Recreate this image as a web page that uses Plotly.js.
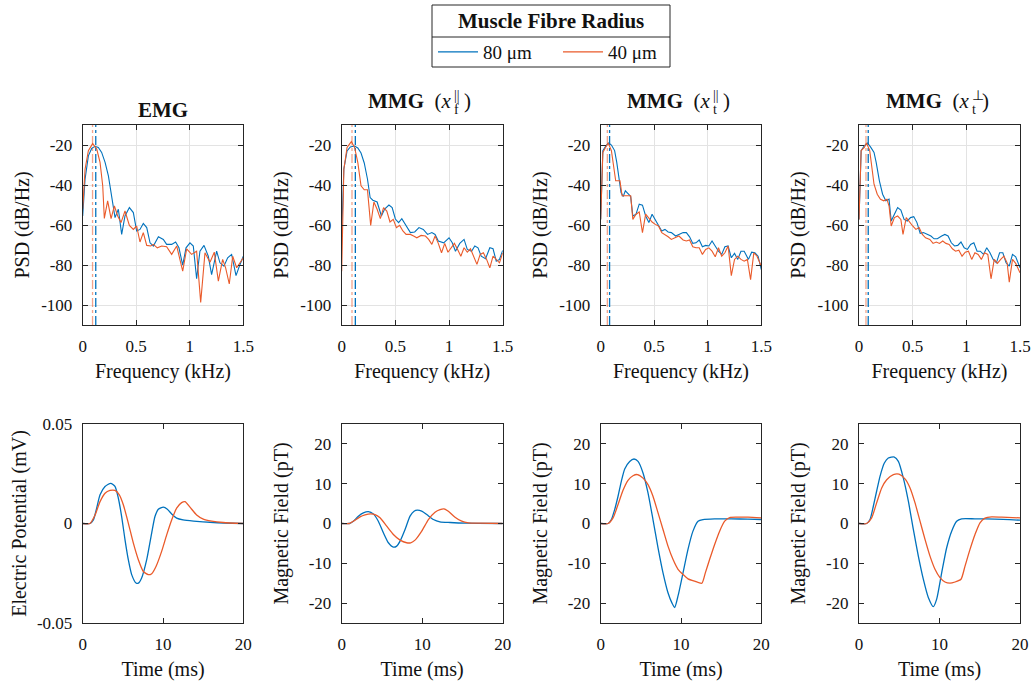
<!DOCTYPE html>
<html>
<head>
<meta charset="utf-8">
<script src="https://cdn.plot.ly/plotly-3.0.1.min.js"></script>
<style>
  html, body { margin: 0; padding: 0; background: #fff; }
  #chart { width: 1035px; height: 684px; }
</style>
</head>
<body>
<div id="chart"></div>
<script>
// ---------------- DATA ----------------
// Series names (legend)
const seriesNames = ['80 μm', '40 μm'];
const panelTitles = ['EMG', 'MMG', 'MMG', 'MMG'];
const panelSubs = ['', 'f', 't', 't'];
const panelSups = ['', '||', '||', '⊥'];

// --- PSD, EMG ---
const fEmg80 = [0,0.022,0.053,0.084,0.115,0.146,0.177,0.209,0.240,0.271,0.302,0.333,0.364,0.395,0.436,0.473,0.504,0.535,0.566,0.598,0.629,0.660,0.707,0.753,0.784,0.831,0.868,0.899,0.934,0.965,1.002,1.033,1.064,1.095,1.133,1.173,1.204,1.251,1.282,1.319,1.354,1.391,1.432,1.463,1.5];
const pEmg80 = [-55.5,-37.1,-25.4,-21.7,-20.7,-21.2,-23.7,-28.7,-35.4,-45.4,-56.3,-52.1,-64.7,-55.5,-51.3,-53.8,-63.0,-62.2,-59.2,-61.3,-68.9,-70.5,-65.9,-67.2,-69.7,-69.7,-68.5,-71.4,-80.1,-71.4,-68.9,-70.5,-86.9,-73.1,-70.2,-75.6,-84.8,-73.1,-78.9,-80.6,-76.4,-74.7,-85.3,-80.6,-75.6];
const fEmg40 = [0,0.022,0.053,0.093,0.131,0.162,0.187,0.202,0.233,0.265,0.296,0.327,0.358,0.395,0.436,0.473,0.504,0.535,0.566,0.598,0.635,0.660,0.697,0.738,0.784,0.831,0.878,0.934,0.971,1.017,1.064,1.102,1.142,1.189,1.229,1.267,1.307,1.335,1.369,1.401,1.438,1.469,1.5];
const pEmg40 = [-52.1,-32.1,-22.8,-19.3,-22.0,-28.7,-40.4,-56.7,-47.9,-56.8,-50.5,-55.5,-58.8,-53.0,-60.2,-62.2,-60.5,-68.5,-63.8,-70.2,-70.5,-69.7,-71.4,-70.5,-70.9,-74.7,-70.5,-83.1,-71.9,-74.7,-73.1,-98.7,-73.9,-78.6,-73.6,-88.1,-77.2,-81.4,-89.5,-75.6,-81.4,-78.9,-76.4];

// --- PSD, MMG x_f ---
const fMf80 = [0,0.02,0.05,0.08,0.12,0.15,0.18,0.21,0.24,0.265,0.29,0.33,0.37,0.4,0.44,0.47,0.5,0.53,0.56,0.6,0.64,0.68,0.72,0.76,0.8,0.84,0.87,0.9,0.95,1.0,1.03,1.06,1.1,1.14,1.17,1.21,1.24,1.27,1.3,1.34,1.38,1.41,1.44,1.47,1.5];
const pMf80 = [-65,-32,-23,-21,-20.5,-21.5,-24,-29,-37,-46.3,-47.6,-48.5,-55.5,-52,-50,-51.3,-57,-58.8,-56.8,-60.5,-63.8,-63.5,-61.3,-62.2,-64.7,-63.8,-64.7,-68.0,-68.9,-66.4,-68.9,-73.1,-69.2,-67.2,-72.2,-73.1,-70.5,-71.4,-75.6,-76.9,-71.4,-71.9,-78.1,-77.2,-72.7];
const fMf40 = [0,0.02,0.05,0.09,0.12,0.15,0.18,0.21,0.24,0.27,0.3,0.33,0.36,0.39,0.42,0.45,0.48,0.51,0.54,0.57,0.6,0.64,0.67,0.7,0.74,0.78,0.81,0.84,0.87,0.9,0.93,0.96,0.99,1.02,1.05,1.08,1.11,1.14,1.17,1.2,1.23,1.26,1.29,1.32,1.35,1.38,1.41,1.44,1.47,1.5];
const pMf40 = [-83.1,-32.1,-21.2,-18.3,-21.2,-28.7,-40.4,-42.4,-42.4,-60.2,-48.5,-52.1,-56.8,-51.3,-53.0,-58.5,-57.2,-61.3,-60.2,-63.0,-64.7,-64.7,-65.5,-66.4,-65.2,-65.5,-67.2,-69.7,-65.5,-69.2,-73.9,-69.2,-73.6,-71.4,-69.2,-72.2,-75.6,-71.4,-73.6,-71.9,-75.6,-79.7,-74.7,-73.9,-77.2,-81.4,-75.6,-77.2,-78.9,-73.9];

// --- PSD, MMG x_t parallel ---
const fMtp80 = [0,0.02,0.05,0.075,0.1,0.13,0.15,0.17,0.19,0.21,0.23,0.26,0.28,0.3,0.33,0.36,0.39,0.42,0.45,0.48,0.51,0.54,0.57,0.6,0.63,0.66,0.7,0.73,0.77,0.8,0.83,0.86,0.89,0.92,0.95,0.98,1.01,1.04,1.07,1.1,1.13,1.16,1.19,1.22,1.25,1.28,1.31,1.34,1.38,1.41,1.44,1.47,1.5];
const pMtp80 = [-57.2,-22.8,-20.3,-19.0,-20.0,-22.8,-28.7,-36.2,-43.8,-45.8,-42.9,-44.6,-45.8,-55.5,-54.6,-49.6,-50.1,-55.5,-58.8,-54.6,-57.2,-60.2,-63.0,-62.2,-63.5,-63.8,-65.5,-64.7,-63.8,-63.8,-65.9,-69.2,-68.9,-67.5,-70.9,-70.2,-70.5,-68.0,-70.5,-73.1,-74.7,-70.9,-70.5,-76.4,-74.2,-77.2,-73.1,-73.1,-77.2,-73.6,-73.9,-75.6,-82.3];
const fMtp40 = [0,0.02,0.045,0.07,0.1,0.12,0.14,0.16,0.18,0.2,0.23,0.26,0.28,0.3,0.33,0.36,0.39,0.42,0.45,0.48,0.51,0.54,0.57,0.6,0.63,0.66,0.7,0.73,0.77,0.8,0.83,0.86,0.89,0.92,0.95,0.98,1.01,1.04,1.07,1.1,1.13,1.16,1.19,1.22,1.25,1.28,1.31,1.34,1.37,1.4,1.43,1.46,1.48,1.5];
const pMtp40 = [-57.2,-23.7,-21.2,-19.0,-22.8,-30.4,-37.9,-37.9,-37.9,-45.4,-45.4,-45.4,-45.4,-57.2,-54.6,-53.5,-63.8,-54.6,-56.8,-58.5,-59.7,-60.5,-63.8,-64.7,-65.9,-67.2,-66.4,-65.5,-67.5,-68.0,-67.5,-70.9,-71.4,-71.4,-74.7,-72.2,-71.4,-73.1,-75.9,-71.4,-75.6,-73.9,-70.5,-85.3,-77.2,-75.6,-77.2,-78.1,-77.2,-87.3,-73.9,-75.6,-78.1,-80.6];

// --- PSD, MMG x_t perpendicular ---
const fMtn80 = [0,0.02,0.05,0.08,0.11,0.14,0.16,0.19,0.22,0.25,0.28,0.3,0.33,0.36,0.39,0.42,0.45,0.48,0.51,0.54,0.57,0.6,0.64,0.67,0.7,0.73,0.77,0.8,0.83,0.86,0.89,0.92,0.95,0.98,1.01,1.04,1.07,1.1,1.13,1.16,1.19,1.22,1.25,1.28,1.31,1.34,1.37,1.4,1.43,1.46,1.5];
const pMtn80 = [-57.2,-22.8,-20.3,-19.0,-21.2,-23.7,-28.7,-37.9,-44.6,-47.9,-47.1,-58.0,-54.6,-51.3,-52.5,-57.2,-58.0,-56.3,-55.8,-58.8,-64.2,-63.8,-64.7,-65.5,-66.9,-66.9,-65.5,-64.7,-65.5,-68.9,-70.5,-70.2,-68.5,-71.4,-72.2,-69.7,-68.9,-73.1,-73.1,-74.7,-71.4,-73.9,-77.2,-78.9,-73.9,-73.9,-78.9,-80.6,-74.7,-75.9,-81.4];
const fMtn40 = [0,0.02,0.05,0.07,0.1,0.12,0.14,0.17,0.2,0.23,0.26,0.28,0.3,0.33,0.36,0.39,0.41,0.44,0.47,0.5,0.53,0.56,0.59,0.62,0.66,0.69,0.72,0.75,0.78,0.81,0.84,0.87,0.9,0.93,0.96,0.99,1.02,1.05,1.08,1.11,1.14,1.17,1.2,1.23,1.26,1.29,1.32,1.35,1.38,1.4,1.43,1.46,1.5];
const pMtn40 = [-57.2,-22.8,-21.2,-19.0,-22.8,-30.4,-39.6,-44.6,-47.1,-47.9,-47.1,-50.5,-60.5,-56.3,-55.5,-57.2,-64.7,-56.3,-58.5,-60.5,-62.2,-61.3,-64.7,-66.4,-67.2,-69.2,-68.5,-69.2,-68.0,-69.2,-69.7,-71.9,-73.1,-72.6,-75.6,-73.6,-73.1,-77.2,-73.9,-74.7,-77.2,-73.9,-74.7,-86.9,-77.2,-79.2,-77.2,-75.6,-78.9,-88.6,-77.2,-79.2,-83.9];

// Peak frequencies, kHz, shown as dash-dot lines
const peakF80 = [0.122, 0.127, 0.083, 0.086];
const peakF40 = [0.092, 0.096, 0.062, 0.065];

// --- Time signals ---
const tEmg80 = [0,0.9,1.33,1.74,2.16,2.78,3.49,4.02,4.44,4.85,5.27,5.68,6.1,6.64,6.93,7.34,7.97,8.59,9.0,9.42,10.04,10.54,11.08,11.7,12.5,13.8,16.3,20];
const vEmg80 = [0,0,0.0018,0.0077,0.0144,0.0186,0.0202,0.0186,0.0127,0.0035,-0.0082,-0.0182,-0.0257,-0.0299,-0.0300,-0.0274,-0.0182,-0.0048,0.0035,0.0072,0.0082,0.0072,0.0048,0.0027,0.0018,0.0012,0.0005,0];
const tEmg40 = [0,0.9,1.54,2.16,2.78,3.4,4.02,4.56,5.06,5.68,6.31,6.93,7.55,8.17,8.59,9.13,9.83,10.46,11.08,11.7,12.32,12.74,13.36,14.19,15.02,16.06,17.5,20];
const vEmg40 = [0,0,0.0043,0.011,0.0152,0.0166,0.0166,0.0144,0.0094,0.0002,-0.0099,-0.0182,-0.0241,-0.0257,-0.0252,-0.0216,-0.014,-0.0057,0.0018,0.0077,0.0105,0.011,0.0082,0.0043,0.0022,0.0012,0.0005,0];

const tMf80 = [0,0.95,1.45,2.07,2.69,3.31,3.93,4.55,5.18,5.8,6.42,6.83,7.25,7.87,8.49,8.99,9.4,9.94,10.56,11.39,12.2,13.46,15.5,20];
const vMf80 = [0,0,0.58,1.84,2.67,3.0,2.42,0.58,-2.34,-4.84,-5.93,-5.68,-4.43,-1.5,1.84,3.09,3.34,3.09,2.25,1.0,0.42,0.25,0.08,0];
const tMf40 = [0,0.95,1.66,2.28,2.9,3.6,4.14,4.76,5.59,6.42,7.25,8.07,8.57,9.11,9.94,10.77,11.59,12.22,12.71,13.25,14.08,14.91,15.73,17.18,20];
const vMf40 = [0,0,0.84,1.67,2.17,2.42,2.25,1.42,-0.67,-2.76,-4.18,-4.84,-4.84,-4.18,-1.92,1.0,2.84,3.5,3.67,3.09,1.59,0.58,0.17,0.08,0];

const tMtp80 = [0,0.91,1.33,1.74,2.16,2.57,2.99,3.61,4.15,4.65,5.27,5.89,6.51,7.14,7.76,8.38,8.88,9.21,9.63,10.25,10.87,11.49,12.12,12.74,14.19,16.27,18.34,20];
const vMtp80 = [0,0,1.0,3.5,6.85,10.6,13.7,15.6,16.2,15.6,12.7,7.68,1.0,-6.1,-12.4,-17.4,-20.0,-21.1,-18.2,-12.4,-6.5,-1.92,0.58,1.0,1.17,1.17,1.09,1.0];
const tMtp40 = [0,0.91,1.54,2.16,2.78,3.4,4.02,4.56,5.27,5.89,6.51,7.14,7.76,8.38,9.0,9.63,10.25,10.87,11.7,12.6,13.03,13.57,14.19,14.81,15.44,16.06,17.1,18.34,20];
const vMtp40 = [0,0,1.42,4.76,8.35,10.86,12.0,12.3,11.4,9.77,6.85,2.67,-1.5,-5.68,-9.0,-11.5,-12.8,-13.9,-14.5,-15.0,-12.4,-9.0,-5.26,-1.92,0.58,1.5,1.59,1.59,1.42];

const tMtn80 = [0,0.95,1.37,1.78,2.19,2.61,3.15,3.64,4.39,4.89,5.51,6.13,6.75,7.37,7.99,8.61,9.23,9.65,10.27,10.89,11.51,12.13,12.75,14.41,16.89,20];
const vMtn80 = [0,0,1.0,4.34,8.1,11.86,15.2,16.45,16.7,15.6,11.4,5.6,-1.5,-8.2,-14.0,-18.6,-20.9,-19.0,-12.4,-6.1,-1.92,0.58,1.17,1.17,1.09,0.84];
const tMtn40 = [0,0.95,1.57,2.19,2.82,3.44,4.27,4.97,5.71,6.34,6.96,7.58,8.2,8.82,9.44,10.06,10.68,11.3,11.93,12.67,13.17,13.79,14.41,15.03,15.65,16.48,17.72,20];
const vMtn40 = [0,0,1.42,5.18,8.94,11.0,12.3,12.4,11.2,8.94,5.18,0.58,-4.0,-8.2,-11.5,-13.6,-14.7,-15.0,-14.7,-14.0,-10.7,-6.5,-2.76,0.17,1.34,1.67,1.59,1.42];

// Tick labels
const psdXTicks = [0, 0.5, 1, 1.5];
const psdXText = ['0', '0.5', '1', '1.5'];
const psdYTicks = [-100, -80, -60, -40, -20];
const psdYText = ['-100', '-80', '-60', '-40', '-20'];
const timeXTicks = [0, 10, 20];
const timeXText = ['0', '10', '20'];
const emgYTicks = [-0.05, 0, 0.05];
const emgYText = ['-0.05', '0', '0.05'];
const mmgYTicks = [-20, -10, 0, 10, 20];
const mmgYText = ['-20', '-10', '0', '10', '20'];

const psdXTitle = 'Frequency (kHz)';
const psdYTitle = 'PSD (dB/Hz)';
const timeXTitle = 'Time (ms)';
const emgYTitle = 'Electric Potential (mV)';
const mmgYTitle = 'Magnetic Field (pT)';
const legendTitle = 'Muscle Fibre Radius';

// ---------------- STYLE / LAYOUT ----------------
const W = 1035, H = 684;
const FONT = '"Liberation Serif", "Times New Roman", serif';
const C80 = '#0072BD', C40 = '#EA5A2A', C40L = 'rgba(234,90,42,0.55)';
const AX = '#262626', TXT = '#111';

const colPx = [[82.7, 243.3], [341.7, 502.7], [600.7, 761.3], [859, 1020]];
const topRowPx = [125, 325], botRowPx = [424, 623];
const dx = p => [p[0] / W, p[1] / W];
const dy = r => [(H - r[1]) / H, (H - r[0]) / H];

const psdF = [[fEmg80, fEmg40], [fMf80, fMf40], [fMtp80, fMtp40], [fMtn80, fMtn40]];
const psdP = [[pEmg80, pEmg40], [pMf80, pMf40], [pMtp80, pMtp40], [pMtn80, pMtn40]];
const tmT = [[tEmg80, tEmg40], [tMf80, tMf40], [tMtp80, tMtp40], [tMtn80, tMtn40]];
const tmV = [[vEmg80, vEmg40], [vMf80, vMf40], [vMtp80, vMtp40], [vMtn80, vMtn40]];

const traces = [];
const layout = {
  width: W, height: H,
  margin: {l: 0, r: 0, t: 0, b: 0},
  paper_bgcolor: '#fff', plot_bgcolor: '#fff',
  font: {family: FONT, color: TXT},
  showlegend: true,
  legend: {
    orientation: 'h', x: 558 / W, xanchor: 'center', y: (H - 52) / H, yanchor: 'middle',
    font: {family: FONT, size: 19, color: TXT}, bgcolor: 'rgba(0,0,0,0)', borderwidth: 0,
    itemwidth: 40, tracegroupgap: 0, entrywidth: 70
  },
  shapes: [], annotations: []
};

function axisBase(extra) {
  return Object.assign({
    showline: true, linecolor: AX, linewidth: 1, mirror: 'ticks',
    ticks: 'inside', ticklen: 5, tickwidth: 1, tickcolor: AX,
    tickfont: {family: FONT, size: 17, color: TXT},
    zeroline: false, automargin: false, fixedrange: true, ticklabelstandoff: 6
  }, extra);
}
const titleFont = {family: FONT, size: 20, color: TXT};

for (let c = 0; c < 4; c++) {
  const iTop = c + 1, iBot = c + 5;
  const xa = 'x' + iTop, ya = 'y' + iTop, xb = 'x' + iBot, yb = 'y' + iBot;
  // peak lines
  traces.push({x: [peakF80[c], peakF80[c]], y: [-110, -10], xaxis: xa, yaxis: ya, mode: 'lines',
    line: {color: C80, width: 1.3, dash: 'dashdot'}, showlegend: false, hoverinfo: 'skip'});
  traces.push({x: [peakF40[c], peakF40[c]], y: [-110, -10], xaxis: xa, yaxis: ya, mode: 'lines',
    line: {color: C40L, width: 1.3, dash: 'dashdot'}, showlegend: false, hoverinfo: 'skip'});
  // PSD
  [0, 1].forEach(s => {
    traces.push({x: psdF[c][s], y: psdP[c][s], xaxis: xa, yaxis: ya, mode: 'lines',
      name: seriesNames[s], legendgroup: 'g' + s, showlegend: c === 0,
      line: {color: s === 0 ? C80 : C40, width: 1.1}});
  });
  // time
  [0, 1].forEach(s => {
    traces.push({x: tmT[c][s], y: tmV[c][s], xaxis: xb, yaxis: yb, mode: 'lines',
      name: seriesNames[s], legendgroup: 'g' + s, showlegend: false,
      line: {color: s === 0 ? C80 : C40, width: 1.3, shape: 'spline', smoothing: 0.6}});
  });

  const sfx = i => (i === 1 ? '' : String(i));
  layout['xaxis' + sfx(iTop)] = axisBase({domain: dx(colPx[c]), anchor: ya, range: [0, 1.5],
    tickvals: psdXTicks, ticktext: psdXText, showgrid: true, gridcolor: '#e3e3e3',
    title: {text: psdXTitle, font: titleFont, standoff: 8}});
  layout['yaxis' + sfx(iTop)] = axisBase({domain: dy(topRowPx), anchor: xa, range: [-110, -10],
    tickvals: psdYTicks, ticktext: psdYText, showgrid: true, gridcolor: '#e3e3e3',
    title: {text: psdYTitle, font: titleFont, standoff: 6}});
  layout['xaxis' + iBot] = axisBase({domain: dx(colPx[c]), anchor: yb, range: [0, 20],
    tickvals: timeXTicks, ticktext: timeXText, showgrid: false,
    title: {text: timeXTitle, font: titleFont, standoff: 8}});
  layout['yaxis' + iBot] = axisBase({domain: dy(botRowPx), anchor: xb,
    range: c === 0 ? [-0.05, 0.05] : [-25, 25],
    tickvals: c === 0 ? emgYTicks : mmgYTicks, ticktext: c === 0 ? emgYText : mmgYText, showgrid: false,
    title: {text: c === 0 ? emgYTitle : mmgYTitle, font: titleFont, standoff: c === 0 ? 4 : 14}});

  // panel titles
  const cx = (colPx[c][0] + colPx[c][1]) / 2 / W;
  const tfont = {family: FONT, size: 21, color: TXT};
  const sfont = {family: FONT, size: 14, color: TXT};
  const base = {xref: 'paper', yref: 'paper', showarrow: false, yanchor: 'middle', x: cx};
  if (c === 0) {
    layout.annotations.push(Object.assign({}, base, {text: '<b>' + panelTitles[c] + '</b>',
      y: (H - 110) / H, xanchor: 'center', font: tfont}));
  } else {
    const ty = (H - 101) / H;
    layout.annotations.push(Object.assign({}, base, {text: '<b>' + panelTitles[c] + '</b>  (<i>x</i>',
      y: ty, xanchor: 'right', xshift: 31, font: tfont}));
    layout.annotations.push(Object.assign({}, base, {text: panelSups[c],
      y: ty, xanchor: 'left', xshift: 30, yshift: 5, font: sfont}));
    layout.annotations.push(Object.assign({}, base, {text: panelSubs[c],
      y: ty, xanchor: 'left', xshift: 30, yshift: -9, font: sfont}));
    layout.annotations.push(Object.assign({}, base, {text: ')',
      y: ty, xanchor: 'left', xshift: 40, font: tfont}));
  }
}

// legend frame + title
layout.shapes.push({type: 'rect', xref: 'paper', yref: 'paper', x0: 432 / W, x1: 670 / W,
  y0: (H - 67) / H, y1: (H - 5) / H, line: {color: AX, width: 1}, fillcolor: 'rgba(0,0,0,0)'});
layout.shapes.push({type: 'line', xref: 'paper', yref: 'paper', x0: 432 / W, x1: 670 / W,
  y0: (H - 37) / H, y1: (H - 37) / H, line: {color: AX, width: 1}});
layout.annotations.push({text: '<b>' + legendTitle + '</b>', x: 551 / W, y: (H - 21) / H, xref: 'paper', yref: 'paper',
  xanchor: 'center', yanchor: 'middle', showarrow: false, font: {family: FONT, size: 21, color: TXT}});

Plotly.newPlot('chart', traces, layout, {staticPlot: true, displayModeBar: false});
</script>
</body>
</html>
